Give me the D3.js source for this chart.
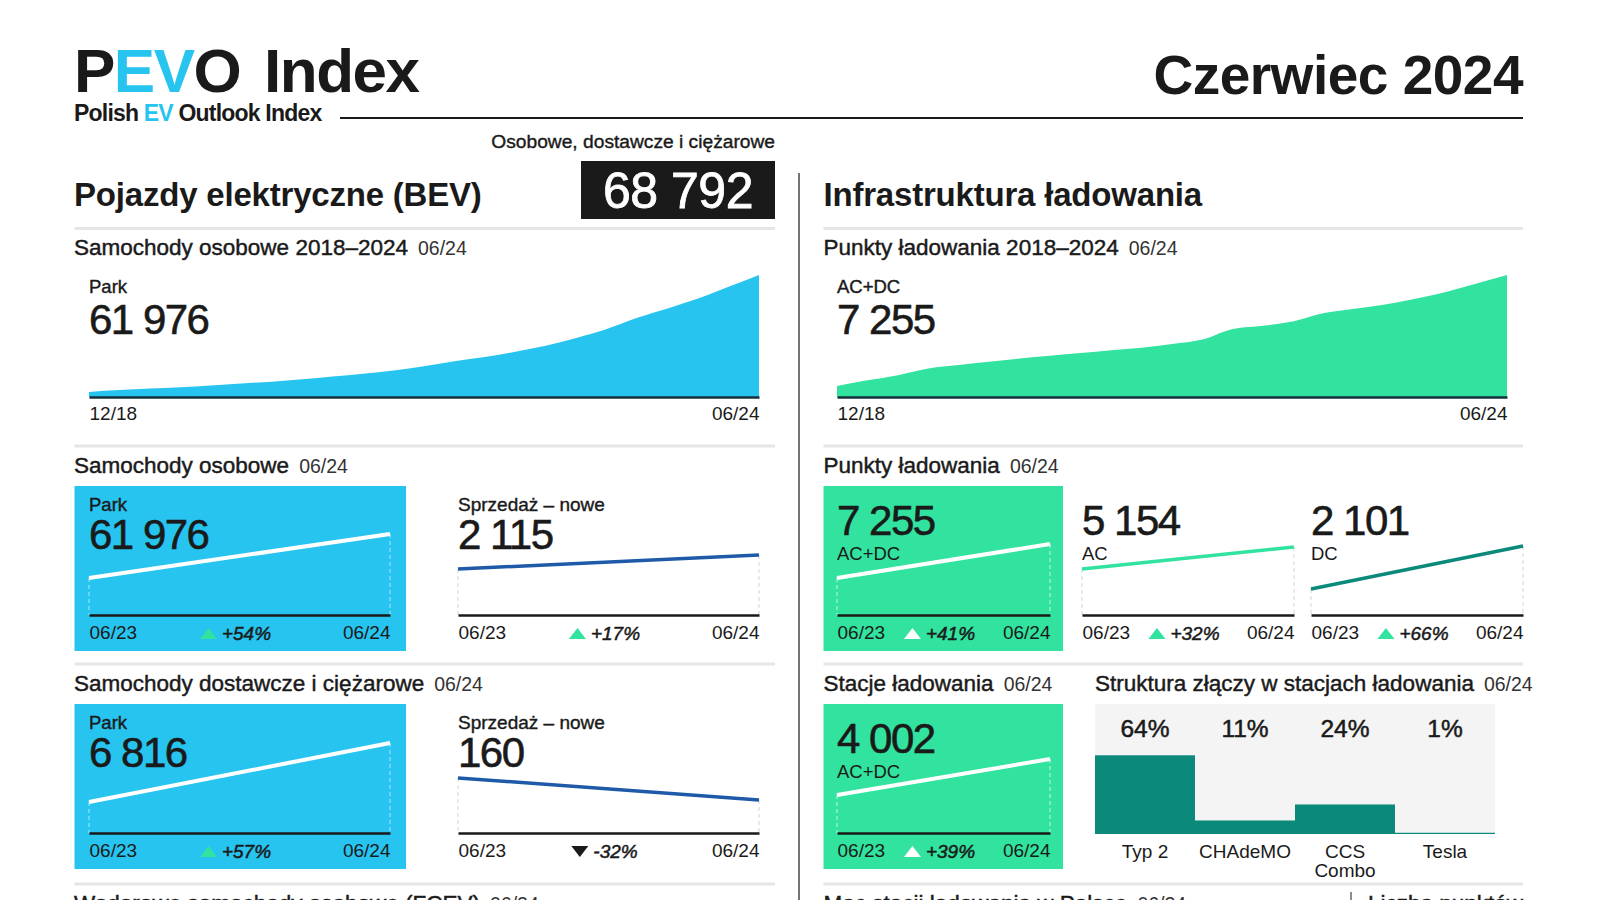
<!DOCTYPE html>
<html><head><meta charset="utf-8">
<script src="https://cdn.jsdelivr.net/npm/d3@7"></script>
<style>
body{margin:0;background:#fff;}
svg{display:block;font-family:"Liberation Sans",Arial,sans-serif;}
</style></head><body><svg id="c" width="1600" height="900"></svg>
<script>
// ---------------- DATA ----------------
const quarters = ["12/18","03/19","06/19","09/19","12/19","03/20","06/20","09/20","12/20","03/21","06/21","09/21","12/21","03/22","06/22","09/22","12/22","03/23","06/23","09/23","12/23","03/24","06/24"];
const passengerPark2018 = [2600,3500,4300,5000,5900,6900,7800,9000,10400,11800,13400,15600,18200,20300,23000,26000,30000,34500,40244,45000,50000,56000,61976];
const chargingPoints2018 = [660,990,1300,1700,1900,2090,2290,2450,2610,2780,2930,3150,3420,4050,4230,4500,4990,5250,5500,5850,6250,6750,7255];
const totalBEV = 68792;
const yoyLabels = ["06/23","06/24"];
const passengerParkYoY = [40244, 61976];
const passengerSalesYoY = [1808, 2115];
const lcvParkYoY = [4341, 6816];
const lcvSalesYoY = [235, 160];
const pointsAllYoY = [5145, 7255];
const pointsACYoY = [3905, 5154];
const pointsDCYoY = [1266, 2101];
const stationsYoY = [2879, 4002];
const connectorTypes = ["Typ 2","CHAdeMO","CCS Combo","Tesla"];
const connectorShares = [64, 11, 24, 1];

// ---------------- STYLE ----------------
const BLUE = "#27c4f0", GREEN = "#31e39e", TEAL = "#0b8a7c", NAVY = "#1f5aa8", INK = "#1a1a1a";
const FONT = "Liberation Sans, Arial, sans-serif";
const fmt = d3.formatLocale({decimal:",", thousands:" ", grouping:[3], currency:["","zł"]}).format(",d");
const svg = d3.select("#c");

function txt(x, y, s, size, opts={}) {
  const t = svg.append("text").attr("x", x).attr("y", y).text(s)
    .attr("font-size", size).attr("fill", opts.fill || INK)
    .attr("font-weight", opts.bold ? 700 : 400)
    .attr("text-anchor", opts.anchor || "start");
  if (opts.med) t.attr("stroke", opts.fill || INK).attr("stroke-width", opts.med).attr("paint-order","stroke");
  if (opts.ls) t.attr("letter-spacing", opts.ls);
  if (opts.italic) t.attr("font-style","italic");
  return t;
}
function heading(x, y, main, date) {
  const t = txt(x, y, main, 22.5, {med:0.45});
  t.append("tspan").attr("dx", 10).attr("font-size", 19.5).attr("stroke","none").attr("fill","#333").text(date);
}
function sep(x1, x2, y) {
  svg.append("line").attr("x1",x1).attr("x2",x2).attr("y1",y).attr("y2",y).attr("stroke","#e6e6e6").attr("stroke-width",3);
}

// ---------------- HEADER ----------------
const title = txt(74, 92, "P", 62, {bold:true, ls:-1.5});
title.append("tspan").attr("fill", BLUE).text("EV");
title.append("tspan").text("O");
title.append("tspan").attr("dx", 8).text(" Index");
const sub = txt(74, 121, "Polish ", 23, {bold:true, ls:-0.8});
sub.append("tspan").attr("fill", BLUE).text("EV");
sub.append("tspan").text(" Outlook Index");
svg.append("line").attr("x1",340).attr("x2",1523).attr("y1",118).attr("y2",118).attr("stroke",INK).attr("stroke-width",2);
txt(1523, 94, "Czerwiec 2024", 55, {bold:true, anchor:"end", ls:-0.5});

txt(775, 148, "Osobowe, dostawcze i ciężarowe", 19.2, {anchor:"end", med:0.4});
svg.append("rect").attr("x",581).attr("y",161).attr("width",194).attr("height",58).attr("fill",INK);
txt(678, 208, fmt(totalBEV), 50, {anchor:"middle", fill:"#fff", med:0.8, ls:-0.5});

txt(74, 206, "Pojazdy elektryczne (BEV)", 33, {bold:true, ls:-0.2});
txt(823.5, 206, "Infrastruktura ładowania", 33, {bold:true, ls:-0.2});
svg.append("line").attr("x1",799).attr("x2",799).attr("y1",173).attr("y2",900).attr("stroke","#444").attr("stroke-width",1.5);

[228.5, 446, 664, 884].forEach(y => { sep(74.5, 775, y); sep(823.5, 1523, y); });

function styleAxis(ax, color) {
  ax.select(".domain").attr("stroke", color).attr("stroke-width", 2.5);
  ax.selectAll("text").attr("font-size", 19).attr("font-family", FONT).attr("fill", INK)
    .attr("text-anchor", (d,i)=> i===0 ? "start" : "end");
}

// ---------------- BIG AREA CHARTS ----------------
function areaChart(x0, x1, values, color, label) {
  const x = d3.scalePoint().domain(quarters).range([x0, x1]);
  const y = d3.scaleLinear().domain([0, d3.max(values)]).range([397, 275]);
  const data = quarters.map((q,i)=>({q, v: values[i]}));
  svg.append("path").datum(data).attr("fill", color)
    .attr("d", d3.area().x(d=>x(d.q)).y0(y(0)).y1(d=>y(d.v)).curve(d3.curveMonotoneX));
  const ax = svg.append("g").attr("transform", `translate(0,${y(0)})`)
    .call(d3.axisBottom(x).tickValues([quarters[0], quarters[quarters.length-1]]).tickSize(0).tickPadding(10));
  styleAxis(ax, "#15303a");
  txt(x0, 293, label, 18.5, {med:0.4});
  txt(x0, 334, fmt(values[values.length-1]), 42, {med:0.6, ls:-1.5});
}
heading(74, 255, "Samochody osobowe 2018–2024", "06/24");
areaChart(89, 759, passengerPark2018, BLUE, "Park");
heading(823.5, 255, "Punkty ładowania 2018–2024", "06/24");
areaChart(837, 1507, chargingPoints2018, GREEN, "AC+DC");

// ---------------- MINI LINE CHARTS ----------------
function mini(o) {
  const x = d3.scalePoint().domain(yoyLabels).range([o.x0, o.x1]);
  const y = d3.scaleLinear().domain(o.domain).range([o.axisY, o.axisY - 100]);
  const pts = yoyLabels.map((q,i)=>({q, v:o.values[i]}));
  pts.forEach(p => svg.append("line").attr("x1", x(p.q)).attr("x2", x(p.q)).attr("y1", y(p.v)).attr("y2", o.axisY)
      .attr("stroke", o.dash).attr("stroke-width", 1).attr("stroke-dasharray","4,3"));
  svg.append("path").datum(pts).attr("fill","none").attr("stroke", o.color).attr("stroke-width", o.lw)
    .attr("d", d3.line().x(d=>x(d.q)).y(d=>y(d.v)));
  const ax = svg.append("g").attr("transform", `translate(0,${o.axisY})`)
    .call(d3.axisBottom(x).tickSize(0).tickPadding(11));
  styleAxis(ax, INK);
  // change indicator
  const pct = Math.round((o.values[1]/o.values[0]-1)*100);
  const cx = (o.x0 + o.x1)/2 + (o.shift||0), by = o.axisY + 25;
  const g = svg.append("g");
  const t = g.append("text").attr("y", by).attr("font-size", 19).attr("font-style","italic")
    .attr("fill", INK).attr("stroke", INK).attr("stroke-width",0.5).attr("paint-order","stroke")
    .text((pct>0?"+":"") + pct + "%");
  const w = t.node().getComputedTextLength();
  const start = cx - (w + 22)/2;
  t.attr("x", start + 22);
  const tri = pct > 0
    ? `M${start},${by-1} L${start+17},${by-1} L${start+8.5},${by-12} Z`
    : `M${start},${by-12} L${start+17},${by-12} L${start+8.5},${by-1} Z`;
  g.append("path").attr("d", tri).attr("fill", pct > 0 ? o.tri : INK);
}
function box(x, y, w, h, c) { svg.append("rect").attr("x",x).attr("y",y).attr("width",w).attr("height",h).attr("fill",c); }

// Samochody osobowe
heading(74, 472.5, "Samochody osobowe", "06/24");
box(74.5, 486, 331.5, 165, BLUE);
txt(89, 511, "Park", 18.5, {med:0.4});
txt(89, 549, fmt(passengerParkYoY[1]), 42, {med:0.6, ls:-1.5});
mini({x0:89, x1:390, axisY:615, values:passengerParkYoY, domain:[21970, 71360], color:"#fff", lw:4, dash:"rgba(255,255,255,0.6)", tri:GREEN, shift:-4});
txt(458, 511, "Sprzedaż – nowe", 19, {med:0.4});
txt(458, 549, fmt(passengerSalesYoY[1]), 42, {med:0.6, ls:-1.5});
mini({x0:458, x1:759, axisY:615, values:passengerSalesYoY, domain:[799, 2992], color:NAVY, lw:3.5, dash:"#d6d6d6", tri:GREEN, shift:-4});

// Samochody dostawcze i ciężarowe
heading(74, 691, "Samochody dostawcze i ciężarowe", "06/24");
box(74.5, 704, 331.5, 165, BLUE);
txt(89, 729, "Park", 18.5, {med:0.4});
txt(89, 767, fmt(lcvParkYoY[1]), 42, {med:0.6, ls:-1.5});
mini({x0:89, x1:390, axisY:833, values:lcvParkYoY, domain:[3041, 7236], color:"#fff", lw:4, dash:"rgba(255,255,255,0.6)", tri:GREEN, shift:-4});
txt(458, 729, "Sprzedaż – nowe", 19, {med:0.4});
txt(458, 767, fmt(lcvSalesYoY[1]), 42, {med:0.6, ls:-1.5});
mini({x0:458, x1:759, axisY:833, values:lcvSalesYoY, domain:[47.5, 388], color:NAVY, lw:3.5, dash:"#d6d6d6", tri:GREEN, shift:-4});

// Punkty ładowania
heading(823.5, 472.5, "Punkty ładowania", "06/24");
box(823.5, 486, 239.5, 165, GREEN);
txt(837, 535, fmt(pointsAllYoY[1]), 42, {med:0.6, ls:-1.5});
txt(837, 560, "AC+DC", 18.5, {});
mini({x0:837, x1:1050, axisY:615, values:pointsAllYoY, domain:[2849, 9055], color:"#fff", lw:4, dash:"rgba(255,255,255,0.7)", tri:"#fff", shift:-4});
txt(1082, 535, fmt(pointsACYoY[1]), 42, {med:0.6, ls:-1.5});
txt(1082, 560, "AC", 18.5, {});
mini({x0:1082, x1:1294, axisY:615, values:pointsACYoY, domain:[1293, 6971], color:GREEN, lw:3.5, dash:"#d6d6d6", tri:GREEN, shift:-4});
txt(1311, 535, fmt(pointsDCYoY[1]), 42, {med:0.6, ls:-1.5});
txt(1311, 560, "DC", 18.5, {});
mini({x0:1311, x1:1523, axisY:615, values:pointsDCYoY, domain:[761, 2703], color:TEAL, lw:3.5, dash:"#d6d6d6", tri:GREEN, shift:-4});

// Stacje ładowania
heading(823.5, 691, "Stacje ładowania", "06/24");
box(823.5, 704, 239.5, 165, GREEN);
txt(837, 753, fmt(stationsYoY[1]), 42, {med:0.6, ls:-1.5});
txt(837, 778, "AC+DC", 18.5, {});
mini({x0:837, x1:1050, axisY:833, values:stationsYoY, domain:[1694, 4813], color:"#fff", lw:4, dash:"rgba(255,255,255,0.7)", tri:"#fff", shift:-4});

// Struktura złączy
heading(1095, 691, "Struktura złączy w stacjach ładowania", "06/24");
svg.append("rect").attr("x",1095).attr("y",704).attr("width",400).attr("height",130).attr("fill","#f4f4f4");
const bx = d3.scaleBand().domain(connectorTypes).range([1095, 1495]).padding(0);
const by = d3.scaleLinear().domain([0, 100]).range([834, 711]);
svg.append("g").selectAll("rect").data(connectorTypes).join("rect")
  .attr("x", d=>bx(d)).attr("width", bx.bandwidth())
  .attr("y", (d,i)=>by(connectorShares[i])).attr("height", (d,i)=>by(0)-by(connectorShares[i]))
  .attr("fill", TEAL);
connectorTypes.forEach((c,i)=>{
  const cx = bx(c) + bx.bandwidth()/2;
  txt(cx, 737, connectorShares[i] + "%", 24.5, {anchor:"middle", med:0.5});
  const parts = c === "CCS Combo" ? ["CCS","Combo"] : [c];
  parts.forEach((p,j)=> txt(cx, 858 + j*18.5, p, 19, {anchor:"middle"}));
});

// bottom (cut-off) headings
heading(74, 911, "Wodorowe samochody osobowe (FCEV)", "06/24");
heading(823.5, 911, "Moc stacji ładowania w Polsce", "06/24");
svg.append("line").attr("x1",1351).attr("x2",1351).attr("y1",892).attr("y2",900).attr("stroke","#444").attr("stroke-width",1.2);
txt(1368, 911, "Liczba punktów", 22.5, {med:0.45});
</script></body></html>
